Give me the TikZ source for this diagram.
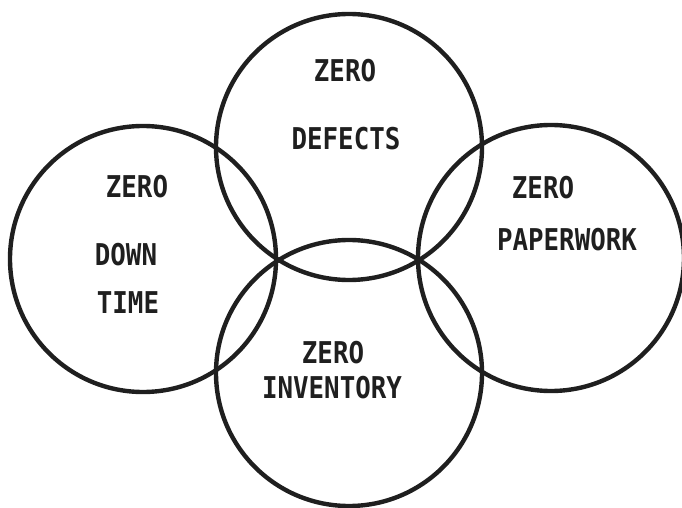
\documentclass[tikz,border=0pt]{standalone}
\usepackage{fontspec}
\newfontfamily\dotfont[FakeStretch=0.86]{DejaVu Sans Mono}
\usepackage{tikz}
\definecolor{ink}{rgb}{0.12,0.12,0.12}

\begin{document}
\begin{tikzpicture}[x=1pt, y=-1pt,
    ring/.style={circle, draw=ink, line width=4.4pt, minimum size=266pt, inner sep=0pt},
    word/.style={text=ink, font=\dotfont\bfseries\fontsize{30}{32}\selectfont, inner sep=0pt}]
  \useasboundingbox (0,0) rectangle (682,508);
  % The four circles (centres in pixel coords, y goes down)
  \node[ring] (defects)   at (349,147) {};
  \node[ring] (downtime)  at (143,259) {};
  \node[ring] (paperwork) at (551,258) {};
  \node[ring] (inventory) at (349,373) {};
  % Labels
  \node[word] (z1) at (345,71)  {ZERO};
  \node[word] (t1) at (346,139) {DEFECTS};
  \node[word] (z2) at (137,187) {ZERO};
  \node[word] (t2) at (126,255) {DOWN};
  \node[word] (t3) at (128,303) {TIME};
  \node[word] (z3) at (543,188) {ZERO};
  \node[word] (t4) at (567,240) {PAPERWORK};
  \node[word] (z4) at (333,353) {ZERO};
  \node[word] (t5) at (332,388) {INVENTORY};
\end{tikzpicture}
\end{document}
